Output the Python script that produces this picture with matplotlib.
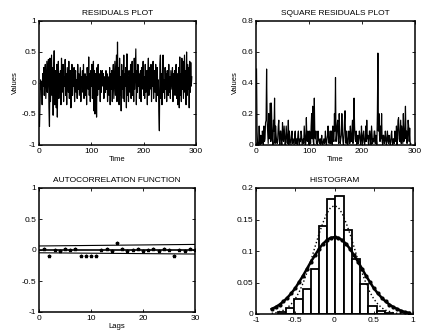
import matplotlib
matplotlib.use("Agg")
import matplotlib.pyplot as plt
import numpy as np

plt.rcParams['font.family'] = ['Liberation Sans', 'DejaVu Sans']

# ---------------- data ----------------
residuals = [
    -0.70, -0.30, 0.05, -0.10, 0.02, -0.35, 0.15, -0.05, 0.25, -0.20, 0.10, 0.30, -0.25, 0.05, 0.35, -0.15, 0.20, 0.38, -0.40, -0.70,
    0.40, -0.30, 0.10, 0.45, -0.20, 0.25, -0.52, 0.15, 0.52, -0.35, 0.20, 0.05, -0.40, 0.30, -0.55, 0.10, 0.35, -0.25, 0.15, -0.10,
    0.20, -0.35, 0.40, -0.15, 0.05, 0.30, -0.30, 0.10, -0.05, 0.38, -0.20, 0.15, -0.35, 0.25, 0.05, -0.15, 0.35, -0.25, 0.10, 0.20,
    -0.40, 0.05, 0.30, -0.20, 0.15, -0.05, 0.25, -0.30, 0.10, 0.20, -0.15, 0.05, -0.25, 0.30, -0.10, 0.15, -0.20, 0.05, 0.25, -0.30,
    0.10, -0.05, 0.20, -0.15, 0.30, -0.25, 0.05, 0.15, -0.20, 0.10, -0.35, 0.25, 0.05, -0.10, 0.42, -0.20, 0.15, -0.30, 0.20, -0.05,
    0.30, -0.25, 0.10, 0.35, -0.45, 0.20, -0.50, 0.15, 0.05, -0.55, 0.25, -0.20, 0.30, -0.10, 0.15, 0.05, -0.30, 0.20, -0.15, 0.10,
    0.20, -0.05, 0.15, -0.25, 0.10, 0.05, -0.15, 0.20, -0.10, 0.15, -0.30, 0.10, 0.05, -0.20, 0.25, -0.35, 0.15, -0.10, 0.20, -0.30,
    0.10, 0.30, -0.25, 0.05, 0.35, -0.20, 0.15, 0.45, -0.30, 0.66, -0.15, 0.25, -0.35, 0.40, -0.20, 0.10, -0.45, 0.30, -0.10, 0.20,
    -0.25, 0.45, -0.30, 0.15, -0.05, 0.25, -0.40, 0.47, -0.20, 0.10, -0.30, 0.20, 0.05, -0.15, 0.30, -0.25, 0.10, 0.35, -0.20, 0.15,
    -0.30, 0.40, -0.10, 0.25, 0.55, -0.35, 0.20, -0.15, 0.30, -0.05, 0.15, -0.25, 0.10, 0.20, -0.30, 0.25, -0.10, 0.05, 0.35, -0.20,
    0.10, -0.25, 0.30, -0.15, 0.05, 0.20, -0.35, 0.15, 0.40, -0.20, 0.25, -0.10, 0.05, 0.30, -0.30, 0.15, -0.05, 0.35, -0.25, 0.10,
    0.20, -0.15, 0.30, -0.30, 0.10, 0.25, -0.20, 0.05, -0.45, -0.77, 0.30, 0.45, -0.25, 0.15, -0.35, 0.20, 0.45, -0.15, 0.05, -0.25,
    0.25, -0.10, 0.15, -0.30, 0.20, 0.05, -0.20, 0.30, -0.15, 0.10, -0.25, 0.20, 0.05, -0.10, 0.25, -0.30, 0.15, -0.05, 0.20, -0.20,
    0.10, 0.30, -0.25, 0.15, -0.35, 0.05, 0.25, -0.40, 0.42, -0.20, 0.15, -0.30, 0.40, -0.10, 0.35, -0.25, 0.10, 0.45, -0.15, 0.20,
    -0.35, 0.50, -0.20, 0.30, -0.10, 0.25, -0.40, 0.35, -0.15, 0.33, -0.05, 0.10,
]
time = list(range(1, len(residuals) + 1))
squared = [r * r for r in residuals]

acf_lags = list(range(1, 31))
acf_values = [0.01, -0.09, 0.00, -0.01, 0.01, 0.00, 0.01, -0.09, -0.09, -0.09,
              -0.09, 0.00, 0.01, -0.01, 0.12, 0.01, -0.01, 0.00, 0.01, -0.01,
              0.00, 0.01, -0.01, 0.01, 0.00, -0.10, 0.00, -0.01, 0.01, 0.00]
band_lags = [0, 30]
band_upper = [0.065, 0.09]
band_lower = [-0.045, -0.065]

hist_centers = [-0.67, -0.565, -0.46, -0.355, -0.25, -0.145, -0.04, 0.065, 0.17, 0.275, 0.38, 0.485, 0.59, 0.695]
hist_heights = [0.003, 0.010, 0.024, 0.040, 0.071, 0.140, 0.183, 0.188, 0.133, 0.087, 0.048, 0.013, 0.005, 0.002]

curve_x = [-0.80, -0.75, -0.70, -0.65, -0.60, -0.55, -0.50, -0.45, -0.40, -0.35, -0.30, -0.25,
           -0.20, -0.15, -0.10, -0.05, 0.00, 0.05, 0.10, 0.15, 0.20, 0.25, 0.30, 0.35,
           0.40, 0.45, 0.50, 0.55, 0.60, 0.65, 0.70, 0.75, 0.80, 0.85, 0.90, 0.95]
normal_fit = [0.008, 0.011, 0.015, 0.020, 0.026, 0.033, 0.041, 0.051, 0.061, 0.072, 0.083, 0.093,
              0.103, 0.111, 0.117, 0.121, 0.122, 0.121, 0.117, 0.111, 0.103, 0.093, 0.083, 0.072,
              0.061, 0.051, 0.041, 0.033, 0.026, 0.020, 0.015, 0.011, 0.008, 0.005, 0.003, 0.002]
density_fit = [0.001, 0.002, 0.004, 0.006, 0.010, 0.016, 0.024, 0.035, 0.049, 0.066, 0.085, 0.106,
               0.126, 0.144, 0.159, 0.169, 0.172, 0.169, 0.159, 0.144, 0.126, 0.106, 0.085, 0.066,
               0.049, 0.035, 0.024, 0.016, 0.010, 0.006, 0.004, 0.002, 0.001, 0.001, 0.000, 0.000]

# ---------------- figure ----------------
W, H = 421, 335
fig = plt.figure(figsize=(W / 100, H / 100), dpi=100)

def box(x0, y0, x1, y1):
    return [x0 / W, 1 - y1 / H, (x1 - x0) / W, (y1 - y0) / H]

TF = 6.0   # title font
LF = 6.0   # tick font
AF = 5.5   # axis label font

def style(ax):
    ax.tick_params(direction='in', length=2, width=0.6, labelsize=LF, pad=2,
                   top=True, right=True)
    for s in ax.spines.values():
        s.set_linewidth(1.1)

ax1 = fig.add_axes(box(39, 21, 196, 145))
ax1.plot(time, residuals, color='black', lw=0.85)
ax1.set_xlim(0, 300)
ax1.set_ylim(-1, 1)
ax1.set_xticks([0, 100, 200, 300])
ax1.set_yticks([-1, -0.5, 0, 0.5, 1])
ax1.set_yticklabels(['-1', '-0.5', '0', '0.5', '1'])
ax1.set_title('RESIDUALS PLOT', fontsize=TF, pad=4)
ax1.set_xlabel('Time', fontsize=AF, labelpad=1)
ax1.set_ylabel('Values', fontsize=AF, labelpad=2)
style(ax1)

ax2 = fig.add_axes(box(256, 21, 415, 145))
ax2.plot(time, squared, color='black', lw=0.85)
ax2.set_xlim(0, 300)
ax2.set_ylim(0, 0.8)
ax2.set_xticks([0, 100, 200, 300])
ax2.set_yticks([0, 0.2, 0.4, 0.6, 0.8])
ax2.set_yticklabels(['0', '0.2', '0.4', '0.6', '0.8'])
ax2.set_title('SQUARE RESIDUALS PLOT', fontsize=TF, pad=4)
ax2.set_xlabel('Time', fontsize=AF, labelpad=1)
ax2.set_ylabel('Values', fontsize=AF, labelpad=2)
style(ax2)

ax3 = fig.add_axes(box(39, 188, 195, 312))
ax3.axhline(0, color='black', lw=1.2)
ax3.plot(band_lags, band_upper, color='black', lw=0.8)
ax3.plot(band_lags, band_lower, color='black', lw=0.8)
ax3.plot(acf_lags, acf_values, linestyle='none', marker='*', ms=2.5, color='black')
ax3.set_xlim(0, 30)
ax3.set_ylim(-1, 1)
ax3.set_xticks([0, 10, 20, 30])
ax3.set_yticks([-1, -0.5, 0, 0.5, 1])
ax3.set_yticklabels(['-1', '-0.5', '0', '0.5', '1'])
ax3.set_title('AUTOCORRELATION FUNCTION', fontsize=TF, pad=4)
ax3.set_xlabel('Lags', fontsize=AF, labelpad=1)
style(ax3)

ax4 = fig.add_axes(box(256, 188, 413, 314))
ax4.bar(hist_centers, hist_heights, width=0.105, color='white', edgecolor='black', lw=1.3)
ax4.plot(curve_x, density_fit, color='black', lw=1.0, linestyle=':')
ax4.plot(curve_x, normal_fit, color='black', lw=1.8, marker='o', ms=2)
ax4.set_xlim(-1, 1)
ax4.set_ylim(0, 0.2)
ax4.set_xticks([-1, -0.5, 0, 0.5, 1])
ax4.set_xticklabels(['-1', '-0.5', '0', '0.5', '1'])
ax4.set_yticks([0, 0.05, 0.1, 0.15, 0.2])
ax4.set_yticklabels(['0', '0.05', '0.1', '0.15', '0.2'])
ax4.set_title('HISTOGRAM', fontsize=TF, pad=4)
style(ax4)

fig.savefig('out.png', dpi=100)
